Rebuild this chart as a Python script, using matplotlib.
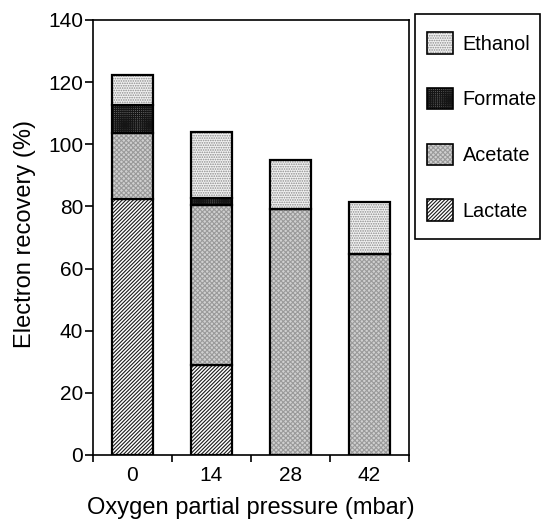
import numpy as np
import matplotlib.pyplot as plt
from matplotlib.patches import Patch, Rectangle

plt.rcParams['font.family'] = ['Liberation Sans', 'DejaVu Sans']
plt.rcParams['hatch.linewidth'] = 0.8

pressures = ['0', '14', '28', '42']
lactate = [82.5, 29.0, 0.0, 0.0]
acetate = [21.0, 51.5, 79.3, 64.8]
formate = [9.0, 2.3, 0.0, 0.0]
ethanol = [9.7, 21.3, 15.5, 16.7]

names = ['Lactate', 'Acetate', 'Formate', 'Ethanol']
series = [lactate, acetate, formate, ethanol]
# (face colour, hatch colour, hatch)
styles = [('#ffffff', '#1a1a1a', '/' * 9),
          ('#d0d0d0', '#9a9a9a', 'x' * 7),
          ('#6e6e6e', '#151515', '+' * 8),
          ('#f2f2f2', '#8a8a8a', '.' * 7)]

fig = plt.figure(figsize=(5.43, 5.26), dpi=100)
ax = fig.add_axes([0.171, 0.135, 0.582, 0.827])

x = np.arange(len(pressures))
w = 0.51
bottom = np.zeros(len(x))
for vals, (fc, hc, h) in zip(series, styles):
    vals = np.array(vals)
    ax.bar(x, vals, w, bottom=bottom, color=fc, edgecolor=hc, hatch=h, linewidth=0)
    ax.bar(x, vals, w, bottom=bottom, fill=False, edgecolor='black', linewidth=1.6)
    bottom = bottom + vals

ax.set_xlim(-0.5, 3.5)
ax.set_ylim(0, 140)
ax.set_yticks(np.arange(0, 141, 20))
ax.set_xticks(x)
ax.set_xticklabels(pressures)
ax.set_xticks(np.arange(-0.5, 3.6, 1), minor=True)
ax.tick_params(axis='x', which='major', length=0, pad=8, labelsize=15)
ax.tick_params(axis='x', which='minor', length=5, width=1.2, direction='out')
ax.tick_params(axis='y', length=6, width=1.2, direction='out', labelsize=15, pad=1)
for s in ax.spines.values():
    s.set_linewidth(1.2)

fig.text(0.046, 0.555, 'Electron recovery (%)', fontsize=17, rotation=90,
         ha='center', va='center')
fig.text(0.462, 0.034, 'Oxygen partial pressure (mbar)', fontsize=17,
         ha='center', va='center')

handles = []
for n, (fc, hc, h) in zip(names, styles):
    fill = Patch(facecolor=fc, edgecolor=hc, hatch=h, linewidth=0)
    edge = Patch(fill=False, edgecolor='black', linewidth=1.2)
    handles.append((fill, edge))
handles = handles[::-1]
leg = fig.legend(handles=handles, labels=names[::-1], loc='upper left',
                 bbox_to_anchor=(0.768, 0.958), frameon=False, fontsize=14.3,
                 handlelength=1.3, handleheight=1.3, labelspacing=1.72,
                 borderpad=0.5, handletextpad=0.5, borderaxespad=0)
fig.patches.append(Rectangle((0.764, 0.5456), 0.230, 0.428, transform=fig.transFigure,
                             fill=False, edgecolor='black', linewidth=1.2))

fig.savefig('out.png', dpi=100)
